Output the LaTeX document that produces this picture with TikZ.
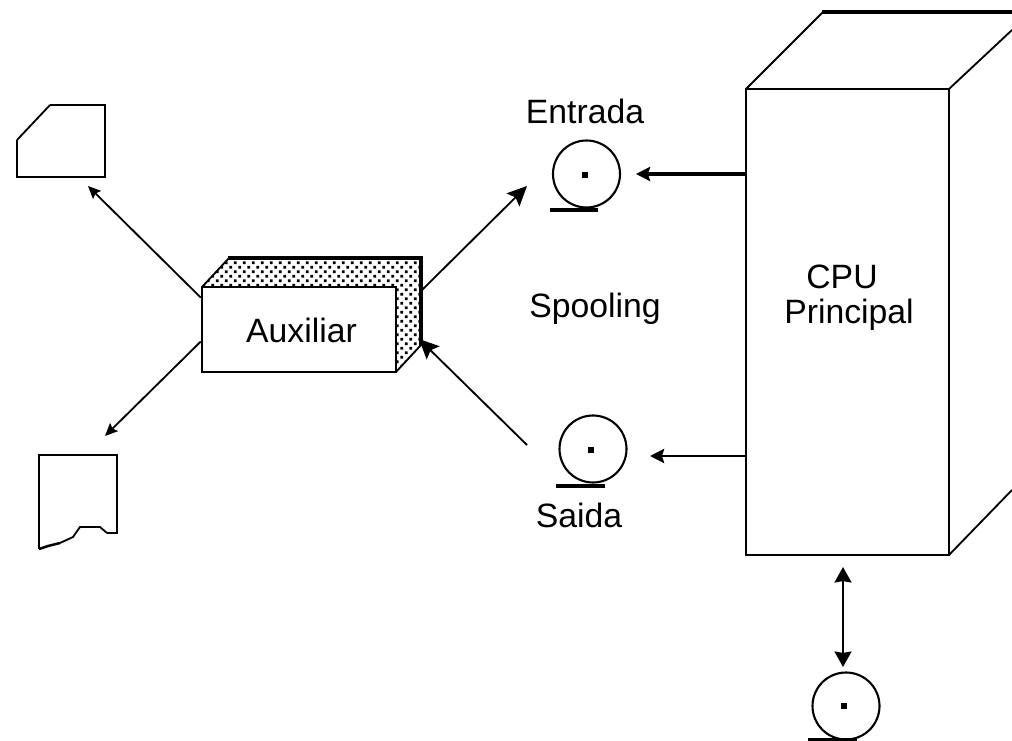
\documentclass[tikz,border=0pt]{standalone}
\usepackage{fontspec}
\setmainfont{Liberation Sans}
\usetikzlibrary{arrows.meta,patterns}
\pgfdeclarepatternformonly{pontos}{\pgfqpoint{-1pt}{-1pt}}{\pgfqpoint{6pt}{6pt}}{\pgfqpoint{6.4pt}{6.4pt}}{
  \pgfpathrectangle{\pgfqpoint{0pt}{0pt}}{\pgfqpoint{1.8pt}{1.8pt}}
  \pgfpathrectangle{\pgfqpoint{3.2pt}{3.2pt}}{\pgfqpoint{1.8pt}{1.8pt}}
  \pgfusepath{fill}
}
\tikzset{
  linha/.style={line width=1.8pt,line join=miter},
  fina/.style={line width=1.3pt},
  seta/.style={line width=1.3pt,-{Stealth[length=9pt,width=8pt,inset=1.5pt]}},
  setafina/.style={line width=1.3pt,-{Stealth[length=14pt,width=13pt,inset=2.5pt]}},
  setamedia/.style={line width=1.9pt,-{Stealth[length=10pt,width=10pt,inset=1.5pt]}},
  setaforte/.style={line width=2.6pt,-{Stealth[length=10pt,width=10pt,inset=1.5pt]}},
  setadupla/.style={line width=1.7pt,{Stealth[length=11pt,width=12pt,inset=1pt]}-{Stealth[length=11pt,width=12pt,inset=1pt]}},
  rotulo/.style={font=\fontsize{24pt}{28pt}\selectfont,inner sep=0pt,anchor=base},
  fita/.style={circle,draw,line width=1.5pt,minimum size=67*0.025cm,inner sep=0pt},
  base/.style={line width=3.4pt},
  furo/.style={rectangle,fill,inner sep=0pt,minimum size=4.2pt}
}
\begin{document}
\begin{tikzpicture}[x=0.025cm,y=-0.025cm]
\useasboundingbox (0,0) rectangle (1012,741);

%Caixa da CPU
\draw[fina] (746,89)--(823,12);
\draw[line width=2.8pt] (822,12)--(1012,12);
\draw[fina] (949,89)--(1012,30);
\draw[fina] (949,555)--(1012,490);
\node[draw,linha,fill=white,minimum width=203*0.025cm,minimum height=466*0.025cm] (cpu) at (847.5,322) {};
\node[rotulo] (cpunome) at (842,288) {CPU};
\node[rotulo] (principal) at (849,323) {Principal};

%Caixa auxiliar
\fill[pattern=pontos] (202,287)--(229,258)--(421,258)--(421,345)--(396,372)--(396,287)--cycle;
\draw[fina] (202,287)--(229,258);
\draw[fina] (396,372)--(421,345);
\draw[line width=2.8pt] (228,258)--(421,258)--(421,346);
\node[draw,linha,fill=white,minimum width=194*0.025cm,minimum height=85*0.025cm] (aux) at (299,329.5) {};
\node[rotulo] (auxnome) at (301.5,342) {Auxiliar};

%Fitas
\node[fita] (entrada) at (586.5,174) {};
\node[furo] (furoa) at (585,175) {};
\draw[base] (550,210)--(598,210);
\node[rotulo] (entradanome) at (585,124) {Entrada};

\node[fita] (saida) at (593,449) {};
\node[furo] (furob) at (591,450) {};
\draw[base] (556,486)--(605,486);
\node[rotulo] (saidanome) at (579,527) {Saida};

\node[fita] (fitacpu) at (846,706) {};
\node[furo] (furoc) at (844,706) {};
\draw[line width=1.5pt] (808,739.5)--(857,739.5);

\node[rotulo] (spooling) at (595,317) {Spooling};

%Cartao
\draw[linha] (50,105)--(105,105)--(105,177)--(17,177)--(17,140);
\draw[fina] (17,140)--(50,105);
\coordinate (cartao) at (88,186);

%Impresso
\draw[linha] (39,549)--(39,455)--(117,455)--(117,533)--(107,533);
\draw[fina] (107,533)--(100,527)--(80,527)--(73,537)--(60,543);
\draw[linha] (60,543)--(48,546)--(39,549);
\coordinate (impresso) at (105,436);

%Setas
\coordinate (auxdir) at (421,291);
\coordinate (auxbaixo) at (419,339);
\coordinate (fimentrada) at (527,186);
\coordinate (iniciosaida) at (527,445);
\draw[seta] (aux.162)--(cartao);
\draw[seta] (aux.187)--(impresso);
\draw[setafina] (auxdir)--(fimentrada);
\draw[setafina] (iniciosaida)--(auxbaixo);
\coordinate (fima) at (636,174);
\coordinate (fimb) at (650,456);
\draw[setaforte] (cpu.west |- fima)--(fima);
\draw[setamedia] (cpu.west |- fimb)--(fimb);
\coordinate (topo) at (843,567);
\coordinate (baixo) at (843,667);
\draw[setadupla] (topo)--(baixo);

\end{tikzpicture}
\end{document}
